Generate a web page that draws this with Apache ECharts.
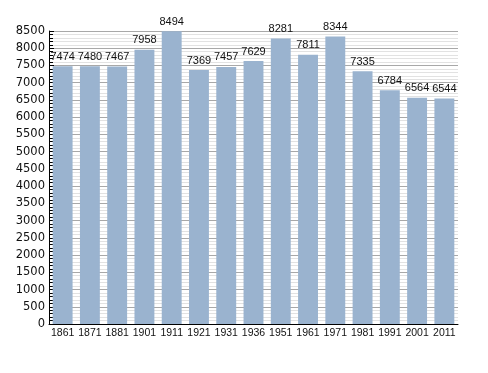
<!DOCTYPE html>
<html><head><meta charset="utf-8">
<script src="https://cdn.jsdelivr.net/npm/echarts@6/dist/echarts.min.js"></script>
<style>html,body{margin:0;padding:0;background:#fff}#c{width:488px;height:373px}</style>
</head><body><div id="c"></div>
<script>
var years = ['1861','1871','1881','1901','1911','1921','1931','1936','1951','1961','1971','1981','1991','2001','2011'];
var population = [7474,7480,7467,7958,8494,7369,7457,7629,8281,7811,8344,7335,6784,6564,6544];
var yMin = 0, yMax = 8500, yStep = 500;

var chart = echarts.init(document.getElementById('c'), null, {renderer:'canvas'});
chart.setOption({
  animation: false,
  backgroundColor: '#ffffff',
  grid: {left: 49, right: 30, top: 31, bottom: 49, containLabel: false},
  xAxis: {
    type: 'category', data: years,
    axisLine: {lineStyle: {color: '#000', width: 1}},
    axisTick: {show: false},
    axisLabel: {interval: 0, fontFamily: 'Liberation Sans', fontSize: 10.5, color: '#111', margin: 4}
  },
  yAxis: {
    type: 'value', min: yMin, max: yMax, interval: yStep,
    axisLine: {show: true, lineStyle: {color: '#000', width: 1}},
    axisTick: {show: true, inside: true, length: 5, lineStyle: {color: '#000'}},
    minorTick: {show: true, splitNumber: 5, length: 4, lineStyle: {color: '#000'}},
    axisLabel: {fontFamily: 'DejaVu Sans', fontSize: 11.5, color: '#111', margin: 4,
      formatter: function (v) { return String(v); }},
    splitLine: {show: true, lineStyle: {color: '#a8a8a8', width: 1}},
    minorSplitLine: {show: true, lineStyle: {color: '#e2e2e2', width: 1}}
  },
  series: [{
    type: 'bar', data: population,
    barCategoryGap: '27%',
    itemStyle: {color: '#9ab3cf'},
    label: {show: true, position: 'top', distance: 4, fontFamily: 'Liberation Sans', fontSize: 11, color: '#111'}
  }]
});
</script></body></html>
